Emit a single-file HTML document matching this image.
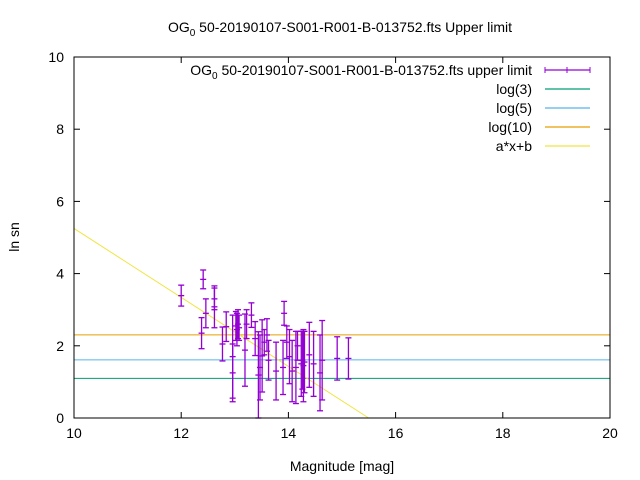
<!DOCTYPE html>
<html><head><meta charset="utf-8"><style>
body{margin:0;background:#fff;}
svg{display:block;font-family:"Liberation Sans",sans-serif;}
</style></head><body>
<svg id="chart" width="640" height="480" xmlns="http://www.w3.org/2000/svg">
<rect width="640" height="480" fill="#fff"/>
<text x="340" y="32" font-size="14" text-anchor="middle">OG<tspan font-size="10" dy="4">0</tspan><tspan dy="-4"> 50-20190107-S001-R001-B-013752.fts Upper limit</tspan></text>
<g id="grid"></g>
<g id="data"></g>
<rect x="74" y="57" width="536" height="361" fill="none" stroke="#000" stroke-width="1"/>
<g id="axes"></g>
<text x="342" y="471" font-size="14" text-anchor="middle">Magnitude [mag]</text>
<text x="19" y="237" font-size="14" text-anchor="middle" transform="rotate(-90 19 237)">ln sn</text>
<g id="legend"></g>
</svg>
<script>
const xTicks=[10,12,14,16,18,20];
const yTicks=[0,2,4,6,8,10];
const magX=[12.0,12.41,12.38,12.46,12.62,12.62,12.77,12.84,12.96,12.96,13.02,13.04,13.06,13.08,13.19,13.22,13.31,13.38,13.44,13.47,13.51,13.55,13.6,13.63,13.77,13.92,13.9,13.97,14.02,14.07,14.14,14.17,14.24,14.26,14.28,14.3,14.39,14.47,14.59,14.63,14.91,15.12];
const lnSn=[3.39,3.84,2.35,2.9,3.08,3.3,2.05,2.53,1.7,1.25,2.55,2.45,2.6,2.5,1.88,2.6,2.85,2.2,1.19,1.4,1.72,2.1,2.3,1.6,1.3,2.9,1.4,2.1,1.7,1.3,1.4,2.0,1.5,1.6,1.45,1.55,1.75,1.5,1.25,1.6,1.65,1.65];
const errs=[0.29,0.26,0.43,0.4,0.58,0.3,0.47,0.41,1.15,0.8,0.4,0.45,0.4,0.35,1.0,0.4,0.34,0.47,1.2,0.9,1.0,0.35,0.45,0.55,0.8,0.33,0.75,0.45,0.75,0.85,1.0,0.4,0.9,0.8,1.0,0.85,0.9,0.9,1.05,1.1,0.6,0.57];
const hLines=[Math.log(3),Math.log(5),Math.log(10)];
const fitA=-0.955, fitB=14.8;
const X0=74,X1=610,Y0=418,Y1=57;
const sx=v=>X0+(v-10)/10*(X1-X0);
const sy=v=>Y0-(v/10)*(Y0-Y1);
const NS="http://www.w3.org/2000/svg";
function mk(tag,attrs,parent){const e=document.createElementNS(NS,tag);for(const k in attrs)e.setAttribute(k,attrs[k]);parent.appendChild(e);return e;}
const axes=document.getElementById('axes');
xTicks.forEach(t=>{
 const g=mk('g',{},axes);
 
 
 mk('line',{x1:sx(t),x2:sx(t),y1:Y0,y2:Y0-6,stroke:'#000'},g);
 mk('line',{x1:sx(t),x2:sx(t),y1:Y1,y2:Y1+6,stroke:'#000'},g);
 const tx=mk('text',{x:sx(t),y:Y0+20,'font-size':14,'text-anchor':'middle'},g);tx.textContent=t;
});
yTicks.forEach(t=>{
 const g=mk('g',{},axes);
 
 
 mk('line',{x1:X0,x2:X0+6,y1:sy(t),y2:sy(t),stroke:'#000'},g);
 mk('line',{x1:X1,x2:X1-6,y1:sy(t),y2:sy(t),stroke:'#000'},g);
 const tx=mk('text',{x:X0-10,y:sy(t)+5,'font-size':14,'text-anchor':'end'},g);tx.textContent=t;
});
const data=document.getElementById('data');
const colors=['#009e73','#56b4e9','#e69f00'];
const names=['log3-line','log5-line','log10-line'];
hLines.forEach((v,i)=>{
 const l=mk('line',{x1:X0,x2:X1,y1:sy(v),y2:sy(v),stroke:colors[i],'stroke-width':1},data);
 
 
});
// fit line clipped to plot
let xa=10, xb=Math.min(20,(0-fitB)/fitA);
const fl=mk('line',{x1:sx(xa),y1:sy(fitA*xa+fitB),x2:sx(xb),y2:sy(fitA*xb+fitB),stroke:'#f0e442','stroke-width':1},data);


magX.forEach((m,i)=>{
 const g=mk('g',{stroke:'#9400d3','stroke-width':1.3},data);
 
 
 const x=sx(m),yc=sy(lnSn[i]),yt=sy(lnSn[i]+errs[i]),yb=sy(Math.max(0,lnSn[i]-errs[i]));
 mk('line',{x1:x,x2:x,y1:yt,y2:yb},g);
 mk('line',{x1:x-3,x2:x+3,y1:yt,y2:yt},g);
 mk('line',{x1:x-3,x2:x+3,y1:yb,y2:yb},g);
 mk('line',{x1:x-3,x2:x+3,y1:yc,y2:yc},g);
});
const leg=document.getElementById('legend');
const lrows=[['upper limit','#9400d3'],['log(3)','#009e73'],['log(5)','#56b4e9'],['log(10)','#e69f00'],['a*x+b','#f0e442']];
lrows.forEach((r,i)=>{
 const y=70+i*19;
 const g=mk('g',{},leg);
 
 
 const t=mk('text',{x:532,y:y+5,'font-size':14,'text-anchor':'end'},g);
 if(i===0){t.innerHTML='OG<tspan font-size="10" dy="4">0</tspan><tspan dy="-4"> 50-20190107-S001-R001-B-013752.fts upper limit</tspan>';}
 else t.textContent=r[0];
 mk('line',{x1:545,x2:590,y1:y,y2:y,stroke:r[1],'stroke-width':1.2},g);
 if(i===0){
  mk('line',{x1:545,x2:545,y1:y-3,y2:y+3,stroke:r[1]},g);
  mk('line',{x1:590,x2:590,y1:y-3,y2:y+3,stroke:r[1]},g);
  mk('line',{x1:567,x2:567,y1:y-3,y2:y+3,stroke:r[1]},g);
 }
});
</script>
</body></html>
